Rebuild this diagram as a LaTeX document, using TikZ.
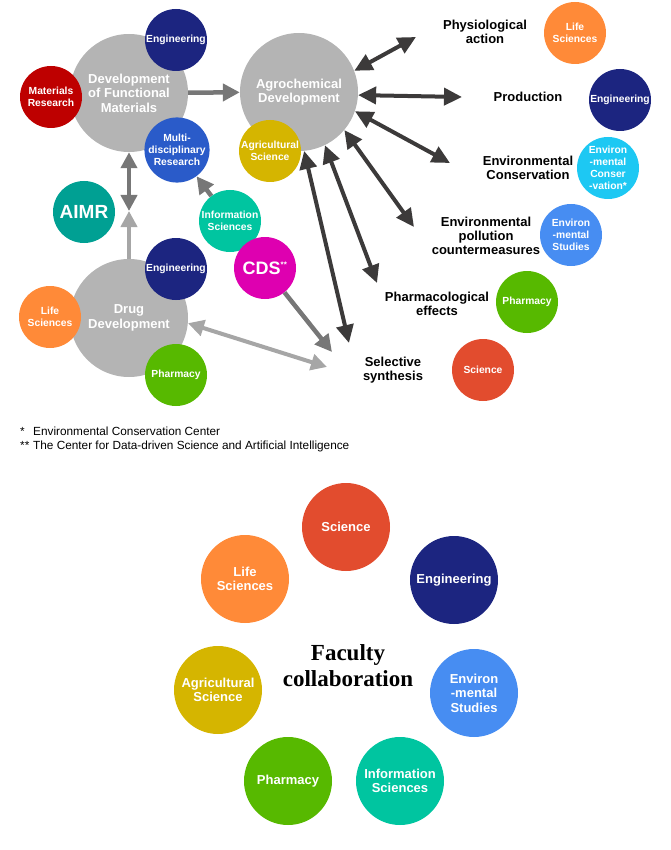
\documentclass[tikz,border=0pt]{standalone}
\usepackage{fontspec}
\setmainfont{Liberation Sans}
\newfontfamily\serifbold{Liberation Serif}
\usetikzlibrary{arrows.meta}
\definecolor{biggray}{HTML}{B4B4B4}
\definecolor{navy}{HTML}{1C2580}
\definecolor{matred}{HTML}{BE0000}
\definecolor{multiblue}{HTML}{2A5BC9}
\definecolor{agyellow}{HTML}{D5B500}
\definecolor{aimrteal}{HTML}{00A093}
\definecolor{infogreen}{HTML}{00C5A0}
\definecolor{cdsmag}{HTML}{DE00B0}
\definecolor{lifeorange}{HTML}{FF8A38}
\definecolor{pharmgreen}{HTML}{57B900}
\definecolor{envcyan}{HTML}{1DC8F3}
\definecolor{envblue}{HTML}{478DF2}
\definecolor{sciencered}{HTML}{E24C2E}
\definecolor{darkarrow}{HTML}{3C3A3A}
\definecolor{midarrow}{HTML}{777777}
\definecolor{lightarrow}{HTML}{A6A6A6}
\begin{document}
\begin{tikzpicture}[x=1pt,y=-1pt,
  bigc/.style={circle, fill=biggray, minimum size=118pt, inner sep=0pt, text=white, align=center,
    font=\bfseries\fontsize{13pt}{14.5pt}\selectfont},
  smc/.style={circle, minimum size=62pt, inner sep=0pt, text=white, align=center,
    font=\bfseries\fontsize{10.3pt}{12pt}\selectfont},
  lgc/.style={circle, minimum size=88pt, inner sep=0pt, text=white, align=center,
    font=\bfseries\fontsize{13pt}{14.5pt}\selectfont},
  lbl/.style={align=center, inner sep=0pt, text=black, font=\bfseries\fontsize{13pt}{14pt}\selectfont},
  note/.style={anchor=base west, inner sep=0pt, font=\fontsize{11.8pt}{13pt}\selectfont},
  dkarrow/.style={draw=darkarrow, line width=4pt, {Triangle[length=18pt,width=17pt]}-{Triangle[length=18pt,width=17pt]}},
  midsingle/.style={draw=midarrow, line width=4.5pt, -{Triangle[length=17pt,width=17pt]}},
  middouble/.style={draw=midarrow, line width=4.5pt, {Triangle[length=16pt,width=16pt]}-{Triangle[length=16pt,width=16pt]}},
  lightsingle/.style={draw=lightarrow, line width=4.5pt, -{Triangle[length=16pt,width=16pt]}},
  lightdouble/.style={draw=lightarrow, line width=4pt, {Triangle[length=16pt,width=16pt]}-{Triangle[length=16pt,width=16pt]}}
]
\useasboundingbox (0,0) rectangle (670,850);

% big gray circles
\node[bigc] (dev) at (129,93) {Development\\of Functional\\Materials};
\node[bigc] (agro) at (299,92) {Agrochemical\\Development};
\node[bigc] (drug) at (129,318) {Drug\\Development};

% small circles around
\node[smc, fill=navy] (eng1) at (176,40) {Engineering};
\node[smc, fill=matred] (matres) at (51,97) {Materials\\Research};
\node[smc, fill=multiblue] (multi) at (177,150) {Multi-\\disciplinary\\Research};
\node[smc, fill=agyellow] (agsci1) at (270,151) {Agricultural\\Science};
\node[smc, fill=aimrteal, font=\bfseries\fontsize{19pt}{20pt}\selectfont] (aimr) at (84,212) {AIMR};
\node[smc, fill=infogreen] (info1) at (230,221) {Information\\Sciences};
\node[smc, fill=cdsmag, font=\bfseries\fontsize{18pt}{20pt}\selectfont] (cds) at (265,268) {CDS\textsuperscript{\fontsize{8pt}{8pt}\selectfont **}};
\node[smc, fill=navy] (eng2) at (176,269) {Engineering};
\node[smc, fill=lifeorange] (life1) at (50,317) {Life\\Sciences};
\node[smc, fill=pharmgreen] (pharm1) at (176,375) {Pharmacy};

% right side circles
\node[smc, fill=lifeorange] (life2) at (575,33) {Life\\Sciences};
\node[smc, fill=navy] (eng3) at (620,100) {Engineering};
\node[smc, fill=envcyan] (envcons) at (608,168) {Environ\\-mental\\Conser\\-vation*};
\node[smc, fill=envblue] (envstud1) at (571,235) {Environ\\-mental\\Studies};
\node[smc, fill=pharmgreen] (pharm2) at (527,302) {Pharmacy};
\node[smc, fill=sciencered] (sci1) at (483,370) {Science};

% labels
\node[lbl] (physio) at (485,32) {Physiological\\action};
\node[lbl] (prod) at (528,97) {Production};
\node[lbl] (envconsl) at (528,168) {Environmental\\Conservation};
\node[lbl] (pollu) at (486,236) {Environmental\\pollution\\countermeasures};
\node[lbl] (pharmeff) at (437,304) {Pharmacological\\effects};
\node[lbl] (selsyn) at (393,370) {Selective\\synthesis};

% arrow end coordinates
\coordinate (e1) at (416,37);
\coordinate (e2) at (462,97);
\coordinate (e3) at (450,163);
\coordinate (e4) at (414,227);
\coordinate (e5) at (377,283);
\coordinate (e6) at (349,343);
\coordinate (meet) at (129,211);
\coordinate (selA) at (332,352);
\coordinate (selB) at (327,367);

% dark arrows from agrochemical development
\draw[dkarrow] (agro.21) -- (e1);
\draw[dkarrow] (agro.-3) -- (e2);
\draw[dkarrow] (agro.-19) -- (e3);
\draw[dkarrow] (agro.-40) -- (e4);
\draw[dkarrow] (agro.-64) -- (e5);
\draw[dkarrow] (agro.-85) -- (e6);

% gray arrows
\draw[midsingle] (dev) -- (agro);
\draw[middouble] (dev.south) -- (meet);
\draw[lightsingle] (drug.north) -- (meet);
\draw[midsingle] (info1) -- (multi);
\draw[midsingle] (cds) -- (selA);
\draw[lightdouble] (drug.-5) -- (selB);

% footnotes
\node[note] (fn1) at (20,435) {\makebox[13pt][l]{*}Environmental Conservation Center};
\node[note] (fn2) at (20,449) {\makebox[13pt][l]{**}The Center for Data-driven Science and Artificial Intelligence};

% faculty collaboration ring
\node[lgc, fill=sciencered] (sci2) at (346,527) {Science};
\node[lgc, fill=navy] (eng4) at (454,580) {Engineering};
\node[lgc, fill=envblue] (envstud2) at (474,693) {Environ\\-mental\\Studies};
\node[lgc, fill=infogreen] (info2) at (400,781) {Information\\Sciences};
\node[lgc, fill=pharmgreen] (pharm3) at (288,781) {Pharmacy};
\node[lgc, fill=agyellow] (agsci2) at (218,690) {Agricultural\\Science};
\node[lgc, fill=lifeorange] (life3) at (245,579) {Life\\Sciences};
\node[align=center, inner sep=0pt, font=\serifbold\bfseries\fontsize{23pt}{26pt}\selectfont] (faculty) at (348,666) {Faculty\\collaboration};
\end{tikzpicture}
\end{document}
